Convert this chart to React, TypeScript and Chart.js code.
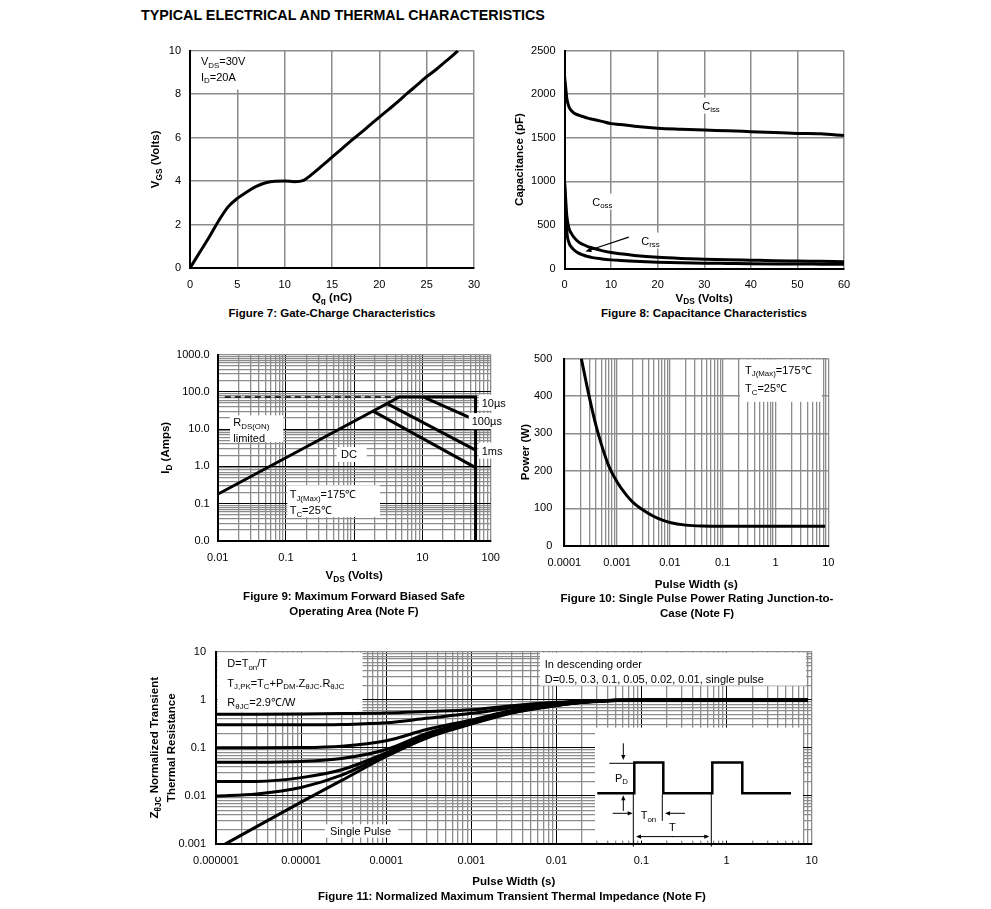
import React, { useEffect, useRef } from 'react';
import { Chart, registerables } from 'chart.js';

Chart.register(...registerables);

const FONT = '"Liberation Sans", Arial, Helvetica, sans-serif';
const GREY = '#8c8c8c';
const XH = 22;
const YW = 40;

// ---------- Figure 7: Gate charge ----------
const gateQg = [0, 1, 2, 3, 4, 5, 6, 7, 8, 9, 10, 11, 12, 13, 14, 15, 16, 17, 18, 19, 20, 21, 22, 23, 24, 25, 26, 27, 28, 28.3];
const gateVgs = [0, 0.7, 1.4, 2.15, 2.8, 3.2, 3.5, 3.75, 3.92, 3.99, 4.0, 3.97, 4.03, 4.35, 4.72, 5.1, 5.47, 5.85, 6.2, 6.57, 6.94, 7.3, 7.66, 8.05, 8.42, 8.8, 9.13, 9.5, 9.87, 10];
const gateQgTicks = [0, 5, 10, 15, 20, 25, 30];
const gateVgsTicks = [0, 2, 4, 6, 8, 10];

// ---------- Figure 8: Capacitance ----------
const capV = [0, 0.25, 0.5, 1, 1.5, 2, 3, 4, 5, 6, 8, 10, 12, 15, 20, 25, 30, 35, 40, 45, 50, 55, 60];
const capCiss = [2210, 2080, 1950, 1850, 1810, 1785, 1760, 1742, 1725, 1712, 1688, 1662, 1652, 1632, 1610, 1598, 1588, 1580, 1570, 1560, 1550, 1545, 1525];
const capCoss = [1000, 800, 600, 455, 400, 360, 305, 275, 252, 235, 205, 183, 168, 150, 128, 115, 107, 100, 95, 90, 86, 82, 78];
const capCrss = [1000, 650, 420, 290, 245, 215, 176, 155, 137, 125, 110, 99, 92, 83, 73, 66, 61, 58, 55, 53, 52, 50, 48];
const capVTicks = [0, 10, 20, 30, 40, 50, 60];
const capCTicks = [0, 500, 1000, 1500, 2000, 2500];

// ---------- Figure 9: SOA ----------
const soaRdsV = [0.0127, 4.6];
const soaRdsI = [73, 73];
const soaEnvV = [0.01, 4.6, 60, 60];
const soaEnvI = [0.18, 73, 73, 0.01];
const soa100usV = [10.2, 60];
const soa100usI = [73, 17.4];
const soa1msV = [3.05, 60];
const soa1msI = [48.6, 2.75];
const soaDcV = [1.86, 60];
const soaDcI = [31, 0.93];
const soaVTicks = [0.01, 0.1, 1, 10, 100];
const soaITicks = [0.01, 0.1, 1, 10, 100, 1000];

// ---------- Figure 10: Single pulse power ----------
const ppT = [0.00021, 0.0003, 0.0004, 0.0005, 0.0007, 0.001, 0.0015, 0.002, 0.003, 0.005, 0.007, 0.01, 0.02, 0.04, 0.1, 1, 8.7];
const ppP = [500, 395, 320, 272, 212, 170, 135, 116, 97, 78, 69, 62, 55, 52.5, 52, 52, 52];
const ppTTicks = [0.0001, 0.001, 0.01, 0.1, 1, 10];
const ppPTicks = [0, 100, 200, 300, 400, 500];

// ---------- Figure 11: Transient thermal impedance ----------
const zthT = [1e-6, 3e-6, 1e-5, 3e-5, 1e-4, 3e-4, 1e-3, 3e-3, 1e-2, 2e-2, 5e-2, 1e-1, 1, 9];
const zthD05 = [0.5, 0.5, 0.505, 0.515, 0.53, 0.57, 0.62, 0.75, 0.88, 0.94, 0.97, 0.98, 0.98, 0.98];
const zthD03 = [0.3, 0.3, 0.3, 0.305, 0.33, 0.41, 0.52, 0.68, 0.85, 0.92, 0.97, 0.98, 0.98, 0.98];
const zthD01 = [0.1, 0.1, 0.101, 0.108, 0.14, 0.24, 0.38, 0.6, 0.8, 0.9, 0.97, 0.98, 0.98, 0.98];
const zthD005 = [0.05, 0.05, 0.052, 0.06, 0.092, 0.2, 0.35, 0.57, 0.78, 0.89, 0.97, 0.98, 0.98, 0.98];
const zthD002 = [0.02, 0.02, 0.024, 0.035, 0.078, 0.18, 0.33, 0.55, 0.77, 0.88, 0.97, 0.98, 0.98, 0.98];
const zthD001 = [0.01, 0.011, 0.015, 0.027, 0.072, 0.17, 0.32, 0.54, 0.76, 0.88, 0.96, 0.98, 0.98, 0.98];
const zthSingle = [0.00078, 0.0023, 0.0074, 0.021, 0.066, 0.16, 0.31, 0.53, 0.75, 0.87, 0.96, 0.98, 0.98, 0.98];
const zthTTicks = [1e-6, 1e-5, 1e-4, 1e-3, 1e-2, 1e-1, 1, 10];
const zthZTicks = [0.001, 0.01, 0.1, 1, 10];

// ---------- helpers ----------
type Seg = [string, boolean?];

function drawRich(ctx: CanvasRenderingContext2D, segs: Seg[], x: number, y: number, size = 11, bold = false, align: 'left' | 'center' | 'right' = 'left') {
  const b = bold ? 'bold ' : '';
  const main = `${b}${size}px ${FONT}`;
  const sub = `${b}${(size * 0.72).toFixed(1)}px ${FONT}`;
  let w = 0;
  for (const [t, s] of segs) {
    ctx.font = s ? sub : main;
    w += ctx.measureText(t).width;
  }
  let cx = align === 'center' ? x - w / 2 : align === 'right' ? x - w : x;
  ctx.textAlign = 'left';
  ctx.textBaseline = 'alphabetic';
  const base = y + size * 0.36;
  for (const [t, s] of segs) {
    ctx.font = s ? sub : main;
    ctx.fillText(t, cx, s ? base + size * 0.24 : base);
    cx += ctx.measureText(t).width;
  }
  return w;
}

function rotRich(ctx: CanvasRenderingContext2D, segs: Seg[], x: number, y: number, size = 11.5, bold = true) {
  ctx.save();
  ctx.translate(x, y);
  ctx.rotate(-Math.PI / 2);
  drawRich(ctx, segs, 0, 0, size, bold, 'center');
  ctx.restore();
}

function whiteBox(ctx: CanvasRenderingContext2D, x: number, y: number, w: number, h: number) {
  ctx.save();
  ctx.fillStyle = '#fff';
  ctx.fillRect(x, y, w, h);
  ctx.restore();
}

function boxedText(ctx: CanvasRenderingContext2D, segs: Seg[], x: number, y: number, size = 11) {
  let w = 0;
  for (const [t, s] of segs) {
    ctx.font = `${s ? (size * 0.72).toFixed(1) : size}px ${FONT}`;
    w += ctx.measureText(t).width;
  }
  whiteBox(ctx, x - 3, y - 8, w + 6, 16);
  ctx.fillStyle = '#000';
  drawRich(ctx, segs, x, y, size);
}

function arrow(ctx: CanvasRenderingContext2D, x1: number, y1: number, x2: number, y2: number, head = 5, lw = 1) {
  const a = Math.atan2(y2 - y1, x2 - x1);
  const c = Math.cos(a);
  const s = Math.sin(a);
  ctx.save();
  ctx.strokeStyle = '#000';
  ctx.fillStyle = '#000';
  ctx.lineWidth = lw;
  ctx.beginPath();
  ctx.moveTo(x1, y1);
  ctx.lineTo(x2 - c * head * 0.8, y2 - s * head * 0.8);
  ctx.stroke();
  ctx.beginPath();
  ctx.moveTo(x2, y2);
  ctx.lineTo(x2 - head * c + head * 0.42 * s, y2 - head * s - head * 0.42 * c);
  ctx.lineTo(x2 - head * c - head * 0.42 * s, y2 - head * s + head * 0.42 * c);
  ctx.closePath();
  ctx.fill();
  ctx.restore();
}

function line(ctx: CanvasRenderingContext2D, p: number[][], lw = 1) {
  ctx.save();
  ctx.strokeStyle = '#000';
  ctx.lineWidth = lw;
  ctx.lineJoin = 'miter';
  ctx.beginPath();
  p.forEach(([x, y], i) => (i === 0 ? ctx.moveTo(x, y) : ctx.lineTo(x, y)));
  ctx.stroke();
  ctx.restore();
}

function pts(xs: number[], ys: number[]) {
  return xs.map((x, i) => ({ x, y: ys[i] }));
}

function lineDs(data: { x: number; y: number }[], extra: any = {}) {
  return {
    data,
    showLine: true,
    borderColor: '#000',
    backgroundColor: '#000',
    borderWidth: 3,
    pointRadius: 0,
    pointHoverRadius: 0,
    fill: false,
    tension: 0,
    borderJoinStyle: 'round',
    ...extra,
  };
}

const smooth = { cubicInterpolationMode: 'monotone' };

function tickOpts(pad: number, cb: (v: number) => string) {
  return {
    color: '#000',
    font: { family: FONT, size: 11 },
    padding: pad,
    autoSkip: false,
    maxRotation: 0,
    minRotation: 0,
    callback: (v: any) => cb(Number(v)),
  };
}

function fitFn(horizontal: boolean) {
  return horizontal
    ? (s: any) => {
        s.height = XH;
      }
    : (s: any) => {
        s.width = YW;
      };
}

function linAxis(vals: number[], pad: number, horizontal: boolean) {
  return {
    type: 'linear',
    min: vals[0],
    max: vals[vals.length - 1],
    afterBuildTicks: (s: any) => {
      s.ticks = vals.map((v) => ({ value: v }));
    },
    ticks: tickOpts(pad, (v) => String(v)),
    grid: { color: GREY, lineWidth: 1.5, drawTicks: false },
    border: { display: true, color: '#000', width: 2 },
    afterFit: fitFn(horizontal),
  };
}

function logAxis(decades: number[], pad: number, horizontal: boolean, decadeBlack: boolean, fmt: (v: number) => string) {
  const all: number[] = [];
  decades.forEach((d, i) => {
    all.push(d);
    if (i < decades.length - 1) {
      for (let m = 2; m <= 9; m++) all.push(Number((d * m).toPrecision(6)));
    }
  });
  const inner = decades.slice(1, -1);
  const isMajor = (c: any) => decadeBlack && c.tick && inner.includes(c.tick.value);
  return {
    type: 'logarithmic',
    min: decades[0],
    max: decades[decades.length - 1],
    afterBuildTicks: (s: any) => {
      s.ticks = all.map((v) => ({ value: v }));
    },
    ticks: tickOpts(pad, (v) => (decades.includes(v) ? fmt(v) : '')),
    grid: {
      color: (c: any) => (isMajor(c) ? '#000' : GREY),
      lineWidth: (c: any) => (isMajor(c) ? 1 : 1.3),
      drawTicks: false,
    },
    border: { display: true, color: '#000', width: 2 },
    afterFit: fitFn(horizontal),
  };
}

function baseOptions(padding: any, x: any, y: any) {
  return {
    animation: false,
    responsive: true,
    maintainAspectRatio: false,
    events: [],
    layout: { padding },
    plugins: { legend: { display: false }, tooltip: { enabled: false }, title: { display: false } },
    scales: { x, y },
  };
}

type DrawFn = (ctx: CanvasRenderingContext2D, a: any, chart: any) => void;

function anno(before?: DrawFn, after?: DrawFn) {
  const run = (chart: any, fn?: DrawFn) => {
    if (!fn) return;
    const ctx = chart.ctx as CanvasRenderingContext2D;
    ctx.save();
    ctx.fillStyle = '#000';
    fn(ctx, chart.chartArea, chart);
    ctx.restore();
  };
  return {
    id: 'anno',
    beforeDatasetsDraw(chart: any) {
      run(chart, before);
    },
    afterDatasetsDraw(chart: any) {
      run(chart, after);
    },
  };
}

type Box = { x: number; y: number; w: number; h: number };
type Plot = { L: number; T: number; R: number; B: number };

function ChartCanvas({ box, plot, make }: { box: Box; plot: Plot; make: (p: any) => any }) {
  const ref = useRef<HTMLCanvasElement | null>(null);
  useEffect(() => {
    const padding = {
      left: plot.L - box.x - YW,
      top: plot.T - box.y,
      right: box.x + box.w - plot.R,
      bottom: box.y + box.h - plot.B - XH,
    };
    const chart = new Chart(ref.current as HTMLCanvasElement, make(padding));
    return () => chart.destroy();
  }, []);
  return (
    <div style={{ position: 'absolute', left: box.x, top: box.y, width: box.w, height: box.h }}>
      <canvas ref={ref} />
    </div>
  );
}

// ---------- chart configs ----------
const makeFig7 = (pad: any) => ({
  type: 'scatter',
  data: { datasets: [lineDs(pts(gateQg, gateVgs), smooth)] },
  options: baseOptions(pad, linAxis(gateQgTicks, 10, true), linAxis(gateVgsTicks, 9, false)),
  plugins: [
    anno(
      (ctx, a) => {
        whiteBox(ctx, a.left + 1.5, a.top + 1, 52, 38);
        drawRich(ctx, [['V'], ['DS', true], ['=30V']], a.left + 11, a.top + 10.5);
        drawRich(ctx, [['I'], ['D', true], ['=20A']], a.left + 11, a.top + 26);
      },
      (ctx, a) => {
        drawRich(ctx, [['Q'], ['g', true], [' (nC)']], (a.left + a.right) / 2, a.bottom + 29, 11.5, true, 'center');
        rotRich(ctx, [['V'], ['GS', true], [' (Volts)']], a.left - 35, (a.top + a.bottom) / 2);
      }
    ),
  ],
});

const makeFig8 = (pad: any) => ({
  type: 'scatter',
  data: {
    datasets: [
      lineDs(pts(capV, capCiss), smooth),
      lineDs(pts(capV, capCoss), smooth),
      lineDs(pts(capV, capCrss), smooth),
    ],
  },
  options: baseOptions(pad, linAxis(capVTicks, 10, true), linAxis(capCTicks, 9, false)),
  plugins: [
    anno(
      (ctx, a) => {
        boxedText(ctx, [['C'], ['iss', true]], a.left + 137.7, a.top + 55);
        boxedText(ctx, [['C'], ['oss', true]], a.left + 27.7, a.top + 151);
        boxedText(ctx, [['C'], ['rss', true]], a.left + 76.7, a.top + 190);
      },
      (ctx, a, chart) => {
        const sx = chart.scales.x;
        const sy = chart.scales.y;
        arrow(ctx, sx.getPixelForValue(13.8), sy.getPixelForValue(360), sx.getPixelForValue(4.5), sy.getPixelForValue(195), 6, 1.2);
        drawRich(ctx, [['V'], ['DS', true], [' (Volts)']], (a.left + a.right) / 2, a.bottom + 29, 11.5, true, 'center');
        rotRich(ctx, [['Capacitance (pF)']], a.left - 46, (a.top + a.bottom) / 2);
      }
    ),
  ],
});

const makeFig9 = (pad: any) => ({
  type: 'scatter',
  data: {
    datasets: [
      lineDs(pts(soaRdsV, soaRdsI), { borderWidth: 1.5, borderDash: [6, 4] }),
      lineDs(pts(soaEnvV, soaEnvI), { borderJoinStyle: 'miter' }),
      lineDs(pts(soa100usV, soa100usI)),
      lineDs(pts(soa1msV, soa1msI)),
      lineDs(pts(soaDcV, soaDcI)),
    ],
  },
  options: baseOptions(
    pad,
    logAxis(soaVTicks, 10, true, true, (v) => String(v)),
    logAxis(soaITicks, 8, false, true, (v) => v.toFixed(1))
  ),
  plugins: [
    anno(
      (ctx, a) => {
        whiteBox(ctx, a.left + 12.3, a.top + 60.7, 53.3, 26.7);
        drawRich(ctx, [['R'], ['DS(ON)', true]], a.left + 15.6, a.top + 67.4);
        drawRich(ctx, [['limited']], a.left + 15.6, a.top + 83);
        whiteBox(ctx, a.left + 119, a.top + 92.4, 30, 15);
        drawRich(ctx, [['DC']], a.left + 131.3, a.top + 99.7, 11, false, 'center');
        whiteBox(ctx, a.left + 69.6, a.top + 130.7, 92.7, 31.7);
        drawRich(ctx, [['T'], ['J(Max)', true], ['=175℃']], a.left + 72, a.top + 139.7);
        drawRich(ctx, [['T'], ['C', true], ['=25℃']], a.left + 72, a.top + 155.7);
      },
      (ctx, a) => {
        boxedText(ctx, [['10µs']], a.left + 264, a.top + 48);
        boxedText(ctx, [['100µs']], a.left + 254, a.top + 66.5);
        boxedText(ctx, [['1ms']], a.left + 264, a.top + 96);
        drawRich(ctx, [['V'], ['DS', true], [' (Volts)']], (a.left + a.right) / 2, a.bottom + 34, 11.5, true, 'center');
        rotRich(ctx, [['I'], ['D', true], [' (Amps)']], a.left - 52.7, (a.top + a.bottom) / 2);
      }
    ),
  ],
});

const makeFig10 = (pad: any) => ({
  type: 'scatter',
  data: { datasets: [lineDs(pts(ppT, ppP), smooth)] },
  options: baseOptions(
    pad,
    logAxis(ppTTicks, 11, true, false, (v) => String(v)),
    linAxis(ppPTicks, 12, false)
  ),
  plugins: [
    anno(
      (ctx, a) => {
        whiteBox(ctx, a.left + 175.7, a.top + 1, 81.7, 42.2);
        drawRich(ctx, [['T'], ['J(Max)', true], ['=175℃']], a.left + 180.7, a.top + 11);
        drawRich(ctx, [['T'], ['C', true], ['=25℃']], a.left + 180.7, a.top + 29.4);
      },
      (ctx, a) => {
        drawRich(ctx, [['Pulse Width (s)']], (a.left + a.right) / 2, a.bottom + 38.3, 11.5, true, 'center');
        rotRich(ctx, [['Power (W)']], a.left - 39.3, (a.top + a.bottom) / 2);
      }
    ),
  ],
});

const makeFig11 = (pad: any) => ({
  type: 'scatter',
  data: {
    datasets: [zthD05, zthD03, zthD01, zthD005, zthD002, zthD001, zthSingle].map((ys) => lineDs(pts(zthT, ys), smooth)),
  },
  options: baseOptions(
    pad,
    logAxis(zthTTicks, 10, true, true, (v) => String(v)),
    logAxis(zthZTicks, 10, false, true, (v) => String(v))
  ),
  plugins: [
    anno(
      (ctx, a) => {
        whiteBox(ctx, a.left + 1.5, a.top + 1, 145, 60);
        drawRich(ctx, [['D=T'], ['on', true], ['/T']], a.left + 11.3, a.top + 11.7);
        drawRich(ctx, [['T'], ['J,PK', true], ['=T'], ['C', true], ['+P'], ['DM', true], ['.Z'], ['θJC', true], ['.R'], ['θJC', true]], a.left + 11.3, a.top + 31);
        drawRich(ctx, [['R'], ['θJC', true], ['=2.9℃/W']], a.left + 11.3, a.top + 50.3);
        whiteBox(ctx, a.left + 324, a.top + 1, 266, 33);
        drawRich(ctx, [['In descending order']], a.left + 328.7, a.top + 12);
        drawRich(ctx, [['D=0.5, 0.3, 0.1, 0.05, 0.02, 0.01, single pulse']], a.left + 328.7, a.top + 27);
        whiteBox(ctx, a.left + 109, a.top + 172.7, 73.3, 13.3);
        drawRich(ctx, [['Single Pulse']], a.left + 114, a.top + 179.3);
      },
      (ctx, a) => {
        // inset pulse diagram
        const ix = a.left + 379;
        const iy = a.top + 76;
        whiteBox(ctx, ix, iy, 208, 113);
        const lo = iy + 65.7;
        const hi = iy + 35;
        line(
          ctx,
          [
            [ix + 2.3, lo], [ix + 39.3, lo], [ix + 39.3, hi], [ix + 68.3, hi], [ix + 68.3, lo],
            [ix + 117.3, lo], [ix + 117.3, hi], [ix + 147.3, hi], [ix + 147.3, lo], [ix + 196, lo],
          ],
          2.5
        );
        line(ctx, [[ix + 14.3, hi + 0.7], [ix + 39.3, hi + 0.7]], 1);
        arrow(ctx, ix + 28.3, iy + 15.7, ix + 28.3, iy + 32.5, 5, 1);
        arrow(ctx, ix + 28.3, iy + 83.3, ix + 28.3, iy + 67.7, 5, 1);
        ctx.fillStyle = '#000';
        drawRich(ctx, [['P'], ['D', true]], ix + 20, iy + 50);
        arrow(ctx, ix + 17.7, iy + 85.7, ix + 37.7, iy + 85.7, 5, 1);
        arrow(ctx, ix + 90, iy + 85.7, ix + 70, iy + 85.7, 5, 1);
        ctx.fillStyle = '#000';
        drawRich(ctx, [['T'], ['on', true]], ix + 45.7, iy + 87.7);
        line(ctx, [[ix + 38.3, lo], [ix + 38.3, iy + 119]], 1);
        line(ctx, [[ix + 67.3, lo + 1], [ix + 67.3, iy + 93.3]], 1);
        line(ctx, [[ix + 116.3, lo], [ix + 116.3, iy + 119]], 1);
        ctx.fillStyle = '#000';
        drawRich(ctx, [['T']], ix + 74, iy + 99);
        arrow(ctx, ix + 78, iy + 109, ix + 41, iy + 109, 5, 1);
        arrow(ctx, ix + 77, iy + 109, ix + 114.3, iy + 109, 5, 1);
        ctx.fillStyle = '#000';
        drawRich(ctx, [['Pulse Width (s)']], (a.left + a.right) / 2, a.bottom + 37, 11.5, true, 'center');
        rotRich(ctx, [['Z'], ['θJC', true], [' Normalized Transient']], a.left - 62, (a.top + a.bottom) / 2);
        rotRich(ctx, [['Thermal Resistance']], a.left - 45, (a.top + a.bottom) / 2);
      }
    ),
  ],
});

function Caption({ cx, y, lines }: { cx: number; y: number; lines: string[] }) {
  return (
    <div
      style={{
        position: 'absolute',
        left: cx - 250,
        top: y - 7.5,
        width: 500,
        textAlign: 'center',
        fontFamily: FONT,
        fontSize: 11.5,
        fontWeight: 'bold',
        lineHeight: '15px',
        whiteSpace: 'nowrap',
      }}
    >
      {lines.map((l, i) => (
        <div key={i}>{l}</div>
      ))}
    </div>
  );
}

export default function App() {
  return (
    <div style={{ position: 'absolute', left: 0, top: 0, width: 991, height: 909, background: '#fff', fontFamily: FONT, color: '#000' }}>
      <div style={{ position: 'absolute', left: 141, top: 7, fontSize: 14.3, fontWeight: 'bold', lineHeight: '16px', whiteSpace: 'nowrap' }}>
        TYPICAL ELECTRICAL AND THERMAL CHARACTERISTICS
      </div>
      <ChartCanvas box={{ x: 130, y: 35, w: 370, h: 270 }} plot={{ L: 190, T: 49, R: 474, B: 268 }} make={makeFig7} />
      <ChartCanvas box={{ x: 505, y: 35, w: 370, h: 270 }} plot={{ L: 564.5, T: 48.5, R: 844, B: 268.5 }} make={makeFig8} />
      <ChartCanvas box={{ x: 140, y: 340, w: 375, h: 245 }} plot={{ L: 217.7, T: 354.3, R: 490.7, B: 541 }} make={makeFig9} />
      <ChartCanvas box={{ x: 505, y: 340, w: 370, h: 252 }} plot={{ L: 564.3, T: 352.3, R: 828.3, B: 545.7 }} make={makeFig10} />
      <ChartCanvas box={{ x: 130, y: 635, w: 720, h: 255 }} plot={{ L: 216, T: 649, R: 811.7, B: 844 }} make={makeFig11} />
      <Caption cx={332} y={313} lines={['Figure 7: Gate-Charge Characteristics']} />
      <Caption cx={704} y={313} lines={['Figure 8: Capacitance Characteristics']} />
      <Caption cx={354} y={596} lines={['Figure 9: Maximum Forward Biased Safe', 'Operating Area (Note F)']} />
      <Caption cx={697} y={598} lines={['Figure 10: Single Pulse Power Rating Junction-to-', 'Case (Note F)']} />
      <Caption cx={512} y={896} lines={['Figure 11: Normalized Maximum Transient Thermal Impedance (Note F)']} />
    </div>
  );
}
